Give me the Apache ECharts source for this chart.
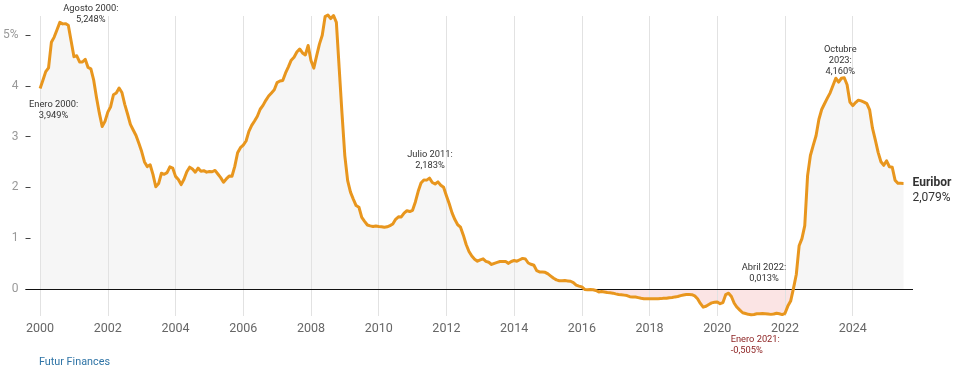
<!DOCTYPE html>
<html><head><meta charset="utf-8">
<script src="https://cdn.jsdelivr.net/npm/echarts@6/dist/echarts.min.js"></script>
<style>html,body{margin:0;padding:0;background:#fff}#c{width:953px;height:367px}</style>
</head><body><div id="c"></div>
<script>
// ---- data ----
const startYear = 2000; // first value = January 2000, monthly
const euribor = [
  3.949,4.110,4.279,4.355,4.856,4.959,5.105,5.248,5.219,5.223,5.193,4.881, // 2000
  4.574,4.591,4.471,4.468,4.522,4.362,4.334,4.111,3.766,3.462,3.201,3.300, // 2001
  3.483,3.589,3.824,3.859,3.955,3.869,3.636,3.445,3.240,3.131,3.022,2.869, // 2002
  2.706,2.502,2.410,2.446,2.258,2.014,2.076,2.279,2.258,2.291,2.405,2.381, // 2003
  2.218,2.157,2.056,2.161,2.309,2.399,2.361,2.299,2.380,2.320,2.330,2.301, // 2004
  2.312,2.309,2.335,2.265,2.193,2.103,2.168,2.223,2.220,2.414,2.684,2.783, // 2005
  2.833,2.914,3.105,3.221,3.308,3.401,3.539,3.615,3.715,3.799,3.860,3.921, // 2006
  4.064,4.094,4.106,4.253,4.373,4.505,4.564,4.666,4.725,4.647,4.607,4.793, // 2007
  4.498,4.349,4.590,4.820,4.994,5.361,5.393,5.323,5.384,5.248,4.350,3.452, // 2008
  2.622,2.135,1.909,1.771,1.644,1.610,1.412,1.334,1.261,1.243,1.231,1.242, // 2009
  1.232,1.225,1.215,1.225,1.249,1.281,1.373,1.421,1.420,1.495,1.541,1.526, // 2010
  1.550,1.714,1.924,2.086,2.147,2.144,2.183,2.097,2.067,2.110,2.044,2.004, // 2011
  1.837,1.678,1.499,1.368,1.266,1.219,1.061,0.877,0.740,0.650,0.588,0.549, // 2012
  0.575,0.594,0.545,0.528,0.484,0.507,0.525,0.542,0.543,0.541,0.506,0.543, // 2013
  0.562,0.549,0.577,0.604,0.592,0.513,0.488,0.469,0.362,0.338,0.335,0.329, // 2014
  0.298,0.255,0.212,0.180,0.165,0.163,0.167,0.161,0.154,0.128,0.079,0.059, // 2015
  0.042,-0.008,-0.012,-0.010,-0.013,-0.028,-0.056,-0.048,-0.057,-0.069,-0.074,-0.080, // 2016
  -0.095,-0.106,-0.110,-0.119,-0.127,-0.149,-0.154,-0.156,-0.168,-0.180,-0.189,-0.190, // 2017
  -0.189,-0.191,-0.191,-0.190,-0.188,-0.181,-0.180,-0.169,-0.166,-0.154,-0.147,-0.129, // 2018
  -0.116,-0.108,-0.109,-0.111,-0.134,-0.190,-0.283,-0.356,-0.339,-0.304,-0.272,-0.261, // 2019
  -0.253,-0.288,-0.266,-0.108,-0.081,-0.147,-0.279,-0.359,-0.415,-0.466,-0.481,-0.497, // 2020
  -0.505,-0.501,-0.487,-0.484,-0.481,-0.484,-0.491,-0.498,-0.492,-0.477,-0.487,-0.502, // 2021
  -0.477,-0.335,-0.237,0.013,0.287,0.852,0.992,1.249,2.233,2.629,2.828,3.018, // 2022
  3.337,3.534,3.647,3.757,3.862,4.007,4.149,4.073,4.149,4.160,4.022,3.679, // 2023
  3.609,3.671,3.718,3.703,3.680,3.650,3.526,3.166,2.936,2.691,2.506,2.436, // 2024
  2.525,2.407,2.398,2.143,2.081,2.081,2.079 // 2025
];
const xTickLabels = [2000,2002,2004,2006,2008,2010,2012,2014,2016,2018,2020,2022,2024];
const yTickLabels = [0,1,2,3,4,5];
const seriesName = 'Euribor';
const lastValueText = '2,079%';
const sourceText = 'Futur Finances';
const annotations = [
  {year:2000, month:1,  text:'Enero 2000:\n3,949%'},
  {year:2000, month:8,  text:'Agosto 2000:\n5,248%'},
  {year:2008, month:7,  text:'Julio 2008:\n5,393%'},
  {year:2011, month:7,  text:'Julio 2011:\n2,183%'},
  {year:2021, month:1,  text:'Enero 2021:\n-0,505%'},
  {year:2022, month:4,  text:'Abril 2022:\n0,013%'},
  {year:2023, month:10, text:'Octubre\n2023:\n4,160%'}
];

// ---- build ----
const pts = euribor.map((v, i) => [startYear + i / 12, v]);
const posPts = pts.map(p => [p[0], Math.max(p[1], 0)]);
const negPts = pts.map(p => [p[0], Math.min(p[1], 0)]);

const annStyle = {
  '1/2000':  {offset:[13.5, 22], color:'#333', align:'center'},
  '8/2000':  {offset:[31, -8], color:'#333', align:'center'},
  '7/2008':  {offset:[40, -0.5], color:'#333', align:'center'},
  '7/2011':  {offset:[0.5, -17.5], color:'#333', align:'center'},
  '1/2021':  {offset:[-20.5, 30.5], color:'#8e2424', align:'left'},
  '4/2022':  {offset:[-29.5, -15.5], color:'#333', align:'center'},
  '10/2023': {offset:[-4, -17.5], color:'#333', align:'center'}
};
const markPts = annotations.map(a => {
  const idx = (a.year - startYear) * 12 + (a.month - 1);
  const st = annStyle[a.month + '/' + a.year];
  return {
    coord: pts[idx],
    symbolSize: 0,
    itemStyle: {color: 'rgba(0,0,0,0)'},
    label: {
      show: true, position: 'inside', formatter: a.text,
      offset: st.offset, color: st.color, align: st.align, verticalAlign: 'middle',
      fontSize: 9.3, lineHeight: 11, fontFamily: 'Roboto'
    }
  };
});

const chart = echarts.init(document.getElementById('c'), null, {renderer: 'canvas'});
chart.setOption({
  animation: false,
  backgroundColor: '#ffffff',
  title: {
    text: sourceText, left: 34, top: 352,
    textStyle: {fontSize: 10.8, fontWeight: 'normal', color: '#2f74a6', fontFamily: 'Roboto'}
  },
  grid: {left: 22, right: 40, top: 16, bottom: 51, containLabel: false},
  xAxis: {
    type: 'value', min: 1999.57, max: 2025.78,
    axisLine: {show: false}, axisTick: {show: false}, splitLine: {show: false},
    axisLabel: {customValues: xTickLabels, formatter: v => String(v), color: '#666', fontSize: 12.5, margin: 6, fontFamily: 'Roboto'}
  },
  yAxis: {
    type: 'value', min: -0.53, max: 5.374,
    axisLine: {show: false}, splitLine: {show: false},
    axisTick: {show: true, inside: true, length: 5, customValues: yTickLabels, lineStyle: {color: '#444', width: 1}},
    axisLabel: {customValues: yTickLabels, formatter: v => v === 5 ? '5%' : String(v), color: '#999', fontSize: 12, margin: 7, fontFamily: 'Roboto'}
  },
  series: [
    {
      type: 'line', data: posPts, symbol: 'none', silent: true,
      lineStyle: {width: 0}, areaStyle: {color: '#f6f6f6', opacity: 1}, z: 1
    },
    {
      type: 'line', data: negPts, symbol: 'none', silent: true,
      lineStyle: {width: 0}, areaStyle: {color: '#fbe4e4', opacity: 1}, z: 2,
      markLine: {
        silent: true, symbol: 'none', label: {show: false},
        data: xTickLabels.map(y => ({xAxis: y, lineStyle: {color: '#e2e2e2', width: 1, type: 'solid'}}))
          .concat([{yAxis: 0, lineStyle: {color: '#111', width: 1.2, type: 'solid'}}])
      }
    },
    {
      type: 'line', name: seriesName, data: pts, symbol: 'none', z: 5, clip: false,
      lineStyle: {color: '#e8961e', width: 3, join: 'round'},
      endLabel: {
        show: true, distance: 9, offset: [0, 7.5],
        formatter: '{b|' + seriesName + '}\n{v|' + lastValueText + '}',
        rich: {
          b: {fontSize: 12, fontWeight: 'bold', color: '#333', lineHeight: 15, fontFamily: 'Roboto'},
          v: {fontSize: 12, color: '#333', lineHeight: 15, fontFamily: 'Roboto'}
        }
      },
      markPoint: {silent: true, data: markPts}
    }
  ]
});
</script></body></html>
